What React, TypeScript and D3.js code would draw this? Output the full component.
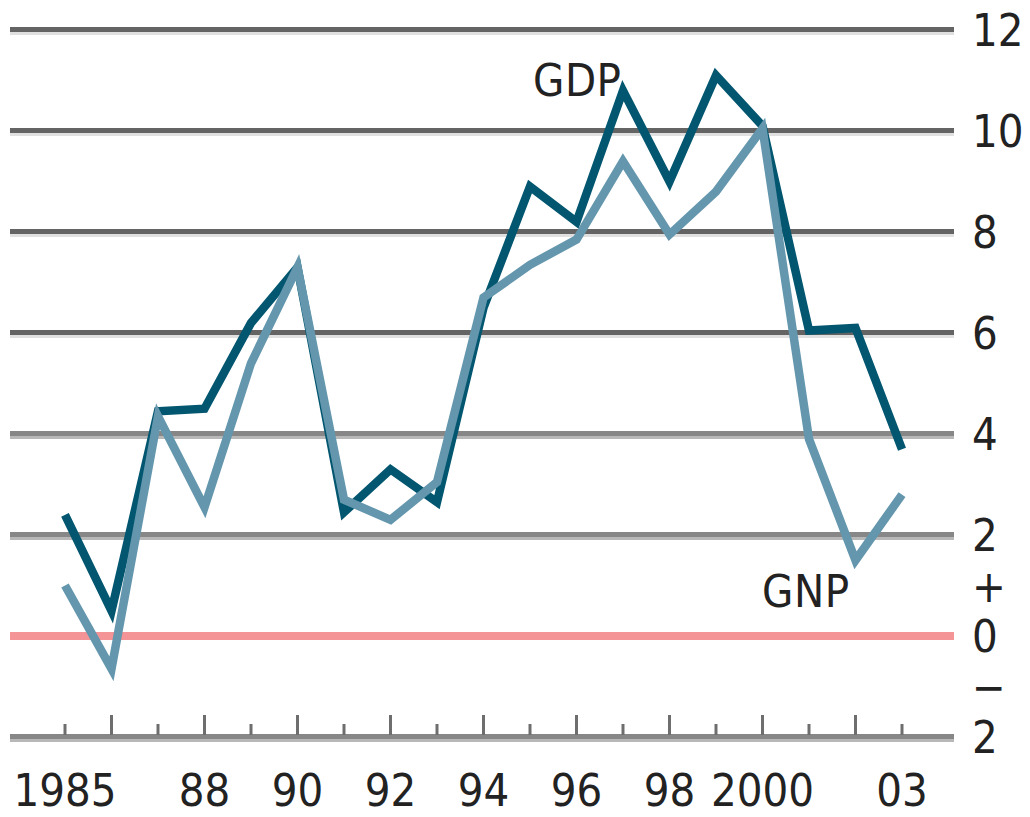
import React from "react";
import * as d3 from "d3";

const years = d3.range(1985, 2004);
const gdp = [2.4, 0.5, 4.45, 4.5, 6.2, 7.3, 2.45, 3.3, 2.65, 6.5, 8.9, 8.2, 10.8, 9.0, 11.1, 10.1, 6.05, 6.1, 3.7];
const gnp = [1.0, -0.65, 4.35, 2.55, 5.4, 7.3, 2.7, 2.3, 3.05, 6.7, 7.35, 7.85, 9.4, 7.95, 8.8, 10.05, 3.9, 1.5, 2.8];
const gridValues = [12, 10, 8, 6, 4, 2, -2];
const yLabels = [
  { v: 12, t: "12" },
  { v: 10, t: "10" },
  { v: 8, t: "8" },
  { v: 6, t: "6" },
  { v: 4, t: "4" },
  { v: 2, t: "2" },
  { v: 1, t: "+" },
  { v: 0, t: "0" },
  { v: -1, t: "−" },
  { v: -2, t: "2" },
];
const xLabels = [
  { y: 1985, t: "1985" },
  { y: 1988, t: "88" },
  { y: 1990, t: "90" },
  { y: 1992, t: "92" },
  { y: 1994, t: "94" },
  { y: 1996, t: "96" },
  { y: 1998, t: "98" },
  { y: 2000, t: "2000" },
  { y: 2003, t: "03" },
];

const W = 1030;
const H = 817;
const FONT = "'Liberation Sans Narrow', 'DejaVu Sans Condensed', 'Liberation Sans', sans-serif";

export default function App() {
  const x = d3.scaleLinear().domain([1985, 2003]).range([65, 902]);
  const y = d3.scaleLinear().domain([-2, 12]).range([737, 30]);
  const left = 10;
  const right = 954;

  const line = d3
    .line<number>()
    .x((_, i) => x(years[i]))
    .y((d) => y(d));

  const fs = 45;

  return (
    <svg
      width={W}
      height={H}
      style={{ position: "absolute", left: 0, top: 0, background: "#fff" }}
      fontFamily={FONT}
    >
      <rect x={0} y={0} width={W} height={H} fill="#fff" />
      {gridValues.map((v) => (
        <g key={v}>
          <line x1={left} x2={right} y1={y(v) - 0.5} y2={y(v) - 0.5} stroke={v >= 6 ? "#646464" : "#878787"} strokeWidth={5} />
          <line x1={left} x2={right} y1={y(v) + 3.5} y2={y(v) + 3.5} stroke={v >= 6 ? "#e0e0e0" : "#b8b8b8"} strokeWidth={3} />
        </g>
      ))}
      <line x1={left} x2={right} y1={y(0)} y2={y(0)} stroke="#f59497" strokeWidth={8} />
      {years.map((yr) => {
        const long = yr % 2 === 0;
        return (
          <line
            key={yr}
            x1={x(yr)}
            x2={x(yr)}
            y1={y(-2) - 2}
            y2={y(-2) - (long ? 22 : 13)}
            stroke="#6e6e6e"
            strokeWidth={3}
          />
        );
      })}
      <path d={line(gdp) || ""} fill="none" stroke="#02566f" strokeWidth={8.5} strokeLinejoin="miter" />
      <path d={line(gnp) || ""} fill="none" stroke="#6497ad" strokeWidth={8.5} strokeLinejoin="miter" />
      {yLabels.map((l) => (
        <text key={l.v} x={972} y={y(l.v) + fs * 0.36} fontSize={fs} fill="#222">
          {l.t}
        </text>
      ))}
      {xLabels.map((l) => (
        <text key={l.y} x={x(l.y)} y={806} fontSize={fs} fill="#222" textAnchor="middle">
          {l.t}
        </text>
      ))}
      <text x={533} y={96} fontSize={fs} fill="#222" letterSpacing={0.5}>GDP</text>
      <text x={762} y={607} fontSize={fs} fill="#222" letterSpacing={0.5}>GNP</text>
    </svg>
  );
}
